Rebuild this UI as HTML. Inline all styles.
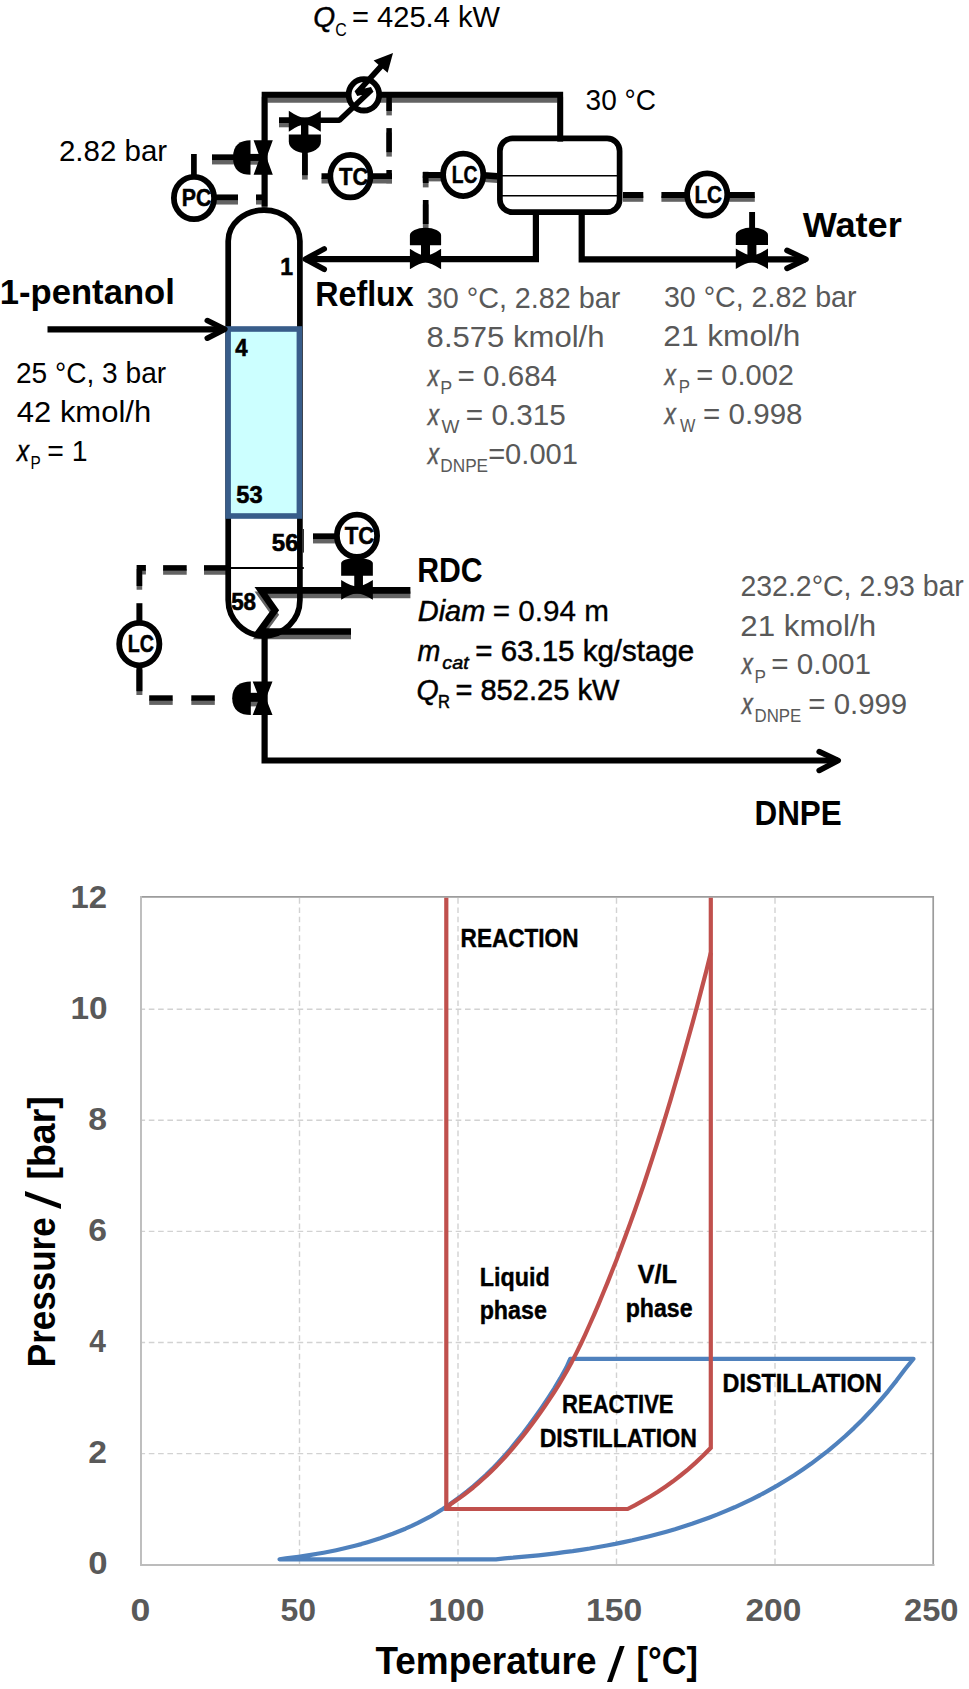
<!DOCTYPE html>
<html lang="en">
<head>
<meta charset="utf-8">
<title>Reactive distillation column for DNPE – flowsheet and operating window</title>
<style>
html,body{margin:0;padding:0;background:#fff;}
body{width:969px;height:1689px;overflow:hidden;}
svg{display:block;}
text{white-space:pre;}
</style>
</head>
<body>
<svg width="969" height="1689" viewBox="0 0 969 1689" font-family='"Liberation Sans", sans-serif'>
<rect width="969" height="1689" fill="#fff"/>
<g id="vessels">
<path d="M228.2,600.0 V241.1 A35.849999999999994,31.0 0 0 1 299.9,241.1 V600.0 A35.849999999999994,35.849999999999994 0 0 1 228.2,600.0 Z" fill="#fff"/>
<rect x="499.9" y="138.4" width="119.7" height="73.8" rx="12.5" ry="12.5" fill="#fff"/>
</g>
<g id="shadows">
<g transform="translate(0,5.0)"><path d="M264.6,206.5 L264.6,94.8 L560.2,94.8 L560.2,137.0" fill="none" stroke="#636363" stroke-width="5.9" stroke-linecap="butt" stroke-linejoin="miter"/></g>
<g transform="translate(0,4.4)"><path d="M212.0,157.2 L234.0,157.2" fill="none" stroke="#636363" stroke-width="5.7" stroke-linecap="butt" stroke-linejoin="miter"/></g>
<g transform="translate(0,3.8)"><path d="M245.0,157.4 L264.6,157.4" fill="none" stroke="#636363" stroke-width="7.0" stroke-linecap="butt" stroke-linejoin="miter"/></g>
<g transform="translate(0,4.4)"><path d="M214.0,197.3 L238.0,197.3" fill="none" stroke="#636363" stroke-width="5.7" stroke-linecap="butt" stroke-linejoin="miter"/></g>
<g transform="translate(0,4.4)"><path d="M256.0,197.3 L262.0,197.3" fill="none" stroke="#636363" stroke-width="5.7" stroke-linecap="butt" stroke-linejoin="miter"/></g>
<g transform="translate(0,4.4)"><path d="M279.0,120.2 L290.0,120.2" fill="none" stroke="#636363" stroke-width="5.4" stroke-linecap="butt" stroke-linejoin="miter"/></g>
<g transform="translate(0,4.4)"><path d="M304.9,150.0 L304.9,175.2" fill="none" stroke="#636363" stroke-width="5.7" stroke-linecap="butt" stroke-linejoin="miter"/></g>
<g transform="translate(0,4.4)"><path d="M321.5,176.2 L392.0,176.2" fill="none" stroke="#636363" stroke-width="5.7" stroke-linecap="butt" stroke-linejoin="miter"/></g>
<g transform="translate(0,4.4)"><path d="M389.1,97.0 L389.1,111.0" fill="none" stroke="#636363" stroke-width="5.5" stroke-linecap="butt" stroke-linejoin="miter"/></g>
<g transform="translate(0,4.4)"><path d="M389.1,128.1 L389.1,152.2" fill="none" stroke="#636363" stroke-width="5.5" stroke-linecap="butt" stroke-linejoin="miter"/></g>
<g transform="translate(0,4.4)"><path d="M389.1,170.0 L389.1,179.0" fill="none" stroke="#636363" stroke-width="5.5" stroke-linecap="butt" stroke-linejoin="miter"/></g>
<g transform="translate(0,3.4)"><path d="M422.8,175.0 L445.0,175.0" fill="none" stroke="#636363" stroke-width="6.0" stroke-linecap="butt" stroke-linejoin="miter"/></g>
<g transform="translate(0,3.6)"><path d="M480.0,175.0 L497.5,176.2" fill="none" stroke="#636363" stroke-width="6.4" stroke-linecap="butt" stroke-linejoin="miter"/></g>
<g transform="translate(0,4.4)"><path d="M425.7,171.8 L425.7,183.0" fill="none" stroke="#636363" stroke-width="5.7" stroke-linecap="butt" stroke-linejoin="miter"/></g>
<g transform="translate(0,4.4)"><path d="M425.7,200.0 L425.7,224.0" fill="none" stroke="#636363" stroke-width="5.7" stroke-linecap="butt" stroke-linejoin="miter"/></g>
<g transform="translate(0,3.8)"><path d="M623.0,195.0 L643.3,195.0" fill="none" stroke="#636363" stroke-width="6.0" stroke-linecap="butt" stroke-linejoin="miter"/></g>
<g transform="translate(0,3.8)"><path d="M661.4,195.0 L690.0,195.0" fill="none" stroke="#636363" stroke-width="6.0" stroke-linecap="butt" stroke-linejoin="miter"/></g>
<g transform="translate(0,3.8)"><path d="M725.0,195.0 L754.8,195.0" fill="none" stroke="#636363" stroke-width="6.0" stroke-linecap="butt" stroke-linejoin="miter"/></g>
<g transform="translate(0,4.4)"><path d="M313.0,536.2 L340.0,536.2" fill="none" stroke="#636363" stroke-width="5.7" stroke-linecap="butt" stroke-linejoin="miter"/></g>
<g transform="translate(0,4.4)"><path d="M410.4,590.4 L261.0,590.4 L275.0,610.2 L259.5,631.5 L351.0,631.5" fill="none" stroke="#636363" stroke-width="6.7" stroke-linecap="butt" stroke-linejoin="miter"/></g>
<g transform="translate(0,4.6)"><path d="M245.0,697.3 L264.6,697.3" fill="none" stroke="#636363" stroke-width="9.0" stroke-linecap="butt" stroke-linejoin="miter"/></g>
<g transform="translate(0,4.1)"><path d="M204.0,567.9 L226.0,567.9" fill="none" stroke="#636363" stroke-width="5.5" stroke-linecap="butt" stroke-linejoin="miter"/></g>
<g transform="translate(0,4.1)"><path d="M163.1,567.9 L186.7,567.9" fill="none" stroke="#636363" stroke-width="5.5" stroke-linecap="butt" stroke-linejoin="miter"/></g>
<g transform="translate(0,3.8)"><path d="M139.4,586.0 L139.4,567.9 L145.9,567.9" fill="none" stroke="#636363" stroke-width="5.6" stroke-linecap="butt" stroke-linejoin="miter"/></g>
<g transform="translate(0,3.8)"><path d="M139.4,666.0 L139.4,691.2" fill="none" stroke="#636363" stroke-width="6.0" stroke-linecap="butt" stroke-linejoin="miter"/></g>
<g transform="translate(0,4.2)"><path d="M149.2,698.0 L172.7,698.0" fill="none" stroke="#636363" stroke-width="5.4" stroke-linecap="butt" stroke-linejoin="miter"/></g>
<g transform="translate(0,4.2)"><path d="M191.3,698.0 L214.8,698.0" fill="none" stroke="#636363" stroke-width="5.4" stroke-linecap="butt" stroke-linejoin="miter"/></g>
</g>
<g id="process">
<path d="M228.2,600.0 V241.1 A35.849999999999994,31.0 0 0 1 299.9,241.1 V600.0 A35.849999999999994,35.849999999999994 0 0 1 228.2,600.0 Z" fill="none" stroke="#000" stroke-width="5.7"/>
<rect x="228.1" y="329.0" width="71.3" height="187.0" fill="#ccffff" stroke="#385d8a" stroke-width="5.6"/>
<path d="M231.0,568.0 L303.8,568.0" fill="none" stroke="#000" stroke-width="1.8" stroke-linecap="butt" stroke-linejoin="miter"/>
<path d="M303.4,529.0 L303.4,552.6" fill="none" stroke="#000" stroke-width="0.9" stroke-linecap="butt" stroke-linejoin="miter"/>
<path d="M264.6,206.5 L264.6,94.8 L560.2,94.8 L560.2,137.0" fill="none" stroke="#000" stroke-width="5.9" stroke-linecap="butt" stroke-linejoin="miter"/>
<path d="M253.60,140.20 H272.80 L266.50,157.50 L272.80,174.80 H253.60 L259.90,157.50 Z" fill="#000"/>
<path d="M212.0,157.2 L234.0,157.2" fill="none" stroke="#000" stroke-width="5.7" stroke-linecap="butt" stroke-linejoin="miter"/>
<path d="M245.0,157.4 L264.6,157.4" fill="none" stroke="#000" stroke-width="7.0" stroke-linecap="butt" stroke-linejoin="miter"/>
<path d="M250.5,140.2 V174.8 C240.5,174.8 233,170.5 233,157.5 C233,144.5 240.5,140.2 250.5,140.2 Z" fill="#000"/>
<path d="M193.9,154.0 L193.9,178.0" fill="none" stroke="#000" stroke-width="5.7" stroke-linecap="butt" stroke-linejoin="miter"/>
<path d="M214.0,197.3 L238.0,197.3" fill="none" stroke="#000" stroke-width="5.7" stroke-linecap="butt" stroke-linejoin="miter"/>
<path d="M256.0,197.3 L262.0,197.3" fill="none" stroke="#000" stroke-width="5.7" stroke-linecap="butt" stroke-linejoin="miter"/>
<ellipse cx="194.0" cy="198.0" rx="20.1" ry="21.2" fill="#fff" stroke="#000" stroke-width="5.8"/>
<ellipse cx="363.9" cy="94.8" rx="15.3" ry="15.7" fill="#fff" stroke="#000" stroke-width="5.8"/>
<path d="M279.0,120.2 L339.4,120.2 L371.6,89.8 L356.6,93.2 L384.5,62.5" fill="none" stroke="#000" stroke-width="5.6" stroke-linecap="butt" stroke-linejoin="bevel"/>
<path d="M279.0,120.2 L290.0,120.2" fill="none" stroke="#000" stroke-width="5.4" stroke-linecap="butt" stroke-linejoin="miter"/>
<path d="M393,53 L373.6,60.6 L387.6,72.8 Z" fill="#000"/>
<path d="M288.80,110.70 Q299.20,117.80 304.80,117.80 Q310.40,117.80 320.80,110.70 V131.70 Q310.40,124.60 304.80,124.60 Q299.20,124.60 288.80,131.70 Z" fill="#000"/>
<path d="M304.7,121.0 L304.7,136.0" fill="none" stroke="#000" stroke-width="7.4" stroke-linecap="butt" stroke-linejoin="miter"/>
<path d="M288.8,134.6 H320.9 V141.5 A16.05,11.4 0 0 1 288.8,141.5 Z" fill="#000"/>
<path d="M304.9,150.0 L304.9,175.2" fill="none" stroke="#000" stroke-width="5.7" stroke-linecap="butt" stroke-linejoin="miter"/>
<path d="M321.5,176.2 L392.0,176.2" fill="none" stroke="#000" stroke-width="5.7" stroke-linecap="butt" stroke-linejoin="miter"/>
<path d="M389.1,97.0 L389.1,111.0" fill="none" stroke="#000" stroke-width="5.5" stroke-linecap="butt" stroke-linejoin="miter"/>
<path d="M389.1,128.1 L389.1,152.2" fill="none" stroke="#000" stroke-width="5.5" stroke-linecap="butt" stroke-linejoin="miter"/>
<path d="M389.1,170.0 L389.1,179.0" fill="none" stroke="#000" stroke-width="5.5" stroke-linecap="butt" stroke-linejoin="miter"/>
<ellipse cx="350.4" cy="176.15" rx="20.1" ry="21.2" fill="#fff" stroke="#000" stroke-width="5.8"/>
<rect x="499.9" y="138.4" width="119.7" height="73.8" rx="12.5" ry="12.5" fill="none" stroke="#000" stroke-width="5.7"/>
<path d="M502.0,175.8 L617.5,175.8" fill="none" stroke="#000" stroke-width="1.5" stroke-linecap="butt" stroke-linejoin="miter"/>
<path d="M502.0,195.8 L617.5,195.8" fill="none" stroke="#000" stroke-width="1.5" stroke-linecap="butt" stroke-linejoin="miter"/>
<path d="M422.8,175.0 L445.0,175.0" fill="none" stroke="#000" stroke-width="6.0" stroke-linecap="butt" stroke-linejoin="miter"/>
<path d="M480.0,175.0 L497.5,176.2" fill="none" stroke="#000" stroke-width="6.4" stroke-linecap="butt" stroke-linejoin="miter"/>
<path d="M425.7,171.8 L425.7,183.0" fill="none" stroke="#000" stroke-width="5.7" stroke-linecap="butt" stroke-linejoin="miter"/>
<path d="M425.7,200.0 L425.7,224.0" fill="none" stroke="#000" stroke-width="5.7" stroke-linecap="butt" stroke-linejoin="miter"/>
<ellipse cx="463.2" cy="174.85" rx="20.1" ry="21.2" fill="#fff" stroke="#000" stroke-width="5.8"/>
<path d="M535.9,214.0 L535.9,259.1 L305.0,259.1" fill="none" stroke="#000" stroke-width="6.2" stroke-linecap="butt" stroke-linejoin="miter"/>
<path d="M324.2,248.9 L305.3,259.1 L324.2,269.3" fill="none" stroke="#000" stroke-width="5.6" stroke-linecap="round" stroke-linejoin="round"/>
<path d="M409.90,248.85 Q420.04,255.70 425.50,255.70 Q430.96,255.70 441.10,248.85 V269.35 Q430.96,262.50 425.50,262.50 Q420.04,262.50 409.90,269.35 Z" fill="#000"/>
<path d="M425.5,259.1 L425.5,244.2" fill="none" stroke="#000" stroke-width="9.0" stroke-linecap="butt" stroke-linejoin="miter"/>
<path d="M409.90,245.20 V235.30 A15.60,7.60 0 0 1 441.10,235.30 V245.20 Z" fill="#000"/>
<path d="M581.7,214.0 L581.7,259.3 L806.0,259.3" fill="none" stroke="#000" stroke-width="6.2" stroke-linecap="butt" stroke-linejoin="miter"/>
<path d="M787.0,250.4 L806.0,259.3 L787.0,268.4" fill="none" stroke="#000" stroke-width="5.6" stroke-linecap="round" stroke-linejoin="round"/>
<path d="M735.80,248.55 Q746.26,255.40 751.90,255.40 Q757.53,255.40 768.00,248.55 V269.05 Q757.53,262.20 751.90,262.20 Q746.26,262.20 735.80,269.05 Z" fill="#000"/>
<path d="M751.9,258.8 L751.9,243.9" fill="none" stroke="#000" stroke-width="9.0" stroke-linecap="butt" stroke-linejoin="miter"/>
<path d="M735.80,244.90 V235.00 A16.10,7.60 0 0 1 768.00,235.00 V244.90 Z" fill="#000"/>
<path d="M752.1,212.0 L752.1,230.0" fill="none" stroke="#000" stroke-width="5.9" stroke-linecap="butt" stroke-linejoin="miter"/>
<path d="M623.0,195.0 L643.3,195.0" fill="none" stroke="#000" stroke-width="6.0" stroke-linecap="butt" stroke-linejoin="miter"/>
<path d="M661.4,195.0 L690.0,195.0" fill="none" stroke="#000" stroke-width="6.0" stroke-linecap="butt" stroke-linejoin="miter"/>
<path d="M725.0,195.0 L754.8,195.0" fill="none" stroke="#000" stroke-width="6.0" stroke-linecap="butt" stroke-linejoin="miter"/>
<ellipse cx="707.2" cy="194.5" rx="20.1" ry="21.2" fill="#fff" stroke="#000" stroke-width="5.8"/>
<path d="M47.5,329.3 L224.0,329.3" fill="none" stroke="#000" stroke-width="6.2" stroke-linecap="butt" stroke-linejoin="miter"/>
<path d="M207.3,320.6 L224.8,329.3 L207.3,338.2" fill="none" stroke="#000" stroke-width="5.6" stroke-linecap="round" stroke-linejoin="round"/>
<path d="M313.0,536.2 L340.0,536.2" fill="none" stroke="#000" stroke-width="5.7" stroke-linecap="butt" stroke-linejoin="miter"/>
<ellipse cx="357.0" cy="535.8" rx="20.1" ry="21.2" fill="#fff" stroke="#000" stroke-width="5.8"/>
<path d="M410.4,590.4 L261.0,590.4 L275.0,610.2 L259.5,631.5 L351.0,631.5" fill="none" stroke="#000" stroke-width="6.7" stroke-linecap="butt" stroke-linejoin="miter"/>
<path d="M341.15,579.90 Q351.45,586.40 357.00,586.40 Q362.55,586.40 372.85,579.90 V599.70 Q362.55,593.20 357.00,593.20 Q351.45,593.20 341.15,599.70 Z" fill="#000"/>
<path d="M358.6,589.8 L358.6,574.8" fill="none" stroke="#000" stroke-width="8.7" stroke-linecap="butt" stroke-linejoin="miter"/>
<path d="M341.15,575.80 V563.30 A15.85,5.50 0 0 1 372.85,563.30 V575.80 Z" fill="#000"/>
<path d="M264.6,636.0 L264.6,760.5 L838.0,760.5" fill="none" stroke="#000" stroke-width="6.2" stroke-linecap="butt" stroke-linejoin="miter"/>
<path d="M819.2,751.6 L838.2,760.5 L819.2,770.4" fill="none" stroke="#000" stroke-width="5.6" stroke-linecap="round" stroke-linejoin="round"/>
<path d="M252.70,681.40 H272.50 L265.90,698.20 L272.50,715.00 H252.70 L259.30,698.20 Z" fill="#000"/>
<path d="M245.0,697.3 L264.6,697.3" fill="none" stroke="#000" stroke-width="9.0" stroke-linecap="butt" stroke-linejoin="miter"/>
<path d="M250.8,681.4 V715 C240.5,715 232.2,710.5 232.2,698.2 C232.2,685.9 240.5,681.4 250.8,681.4 Z" fill="#000"/>
<path d="M204.0,567.9 L226.0,567.9" fill="none" stroke="#000" stroke-width="5.5" stroke-linecap="butt" stroke-linejoin="miter"/>
<path d="M163.1,567.9 L186.7,567.9" fill="none" stroke="#000" stroke-width="5.5" stroke-linecap="butt" stroke-linejoin="miter"/>
<path d="M139.4,586.0 L139.4,567.9 L145.9,567.9" fill="none" stroke="#000" stroke-width="5.6" stroke-linecap="butt" stroke-linejoin="miter"/>
<path d="M139.4,603.2 L139.4,622.0" fill="none" stroke="#000" stroke-width="6.0" stroke-linecap="butt" stroke-linejoin="miter"/>
<path d="M139.4,666.0 L139.4,691.2" fill="none" stroke="#000" stroke-width="6.0" stroke-linecap="butt" stroke-linejoin="miter"/>
<path d="M149.2,698.0 L172.7,698.0" fill="none" stroke="#000" stroke-width="5.4" stroke-linecap="butt" stroke-linejoin="miter"/>
<path d="M191.3,698.0 L214.8,698.0" fill="none" stroke="#000" stroke-width="5.4" stroke-linecap="butt" stroke-linejoin="miter"/>
<ellipse cx="139.3" cy="644.1" rx="20.1" ry="21.2" fill="#fff" stroke="#000" stroke-width="5.8"/>
</g>
<g id="chart">
<line x1="299.5" y1="898.1" x2="299.5" y2="1564.7" stroke="#d2d2d2" stroke-width="1.4" stroke-dasharray="5.6 3.7"/>
<line x1="458.0" y1="898.1" x2="458.0" y2="1564.7" stroke="#d2d2d2" stroke-width="1.4" stroke-dasharray="5.6 3.7"/>
<line x1="616.5" y1="898.1" x2="616.5" y2="1564.7" stroke="#d2d2d2" stroke-width="1.4" stroke-dasharray="5.6 3.7"/>
<line x1="775.0" y1="898.1" x2="775.0" y2="1564.7" stroke="#d2d2d2" stroke-width="1.4" stroke-dasharray="5.6 3.7"/>
<line x1="142.0" y1="1453.6" x2="933.5" y2="1453.6" stroke="#d2d2d2" stroke-width="1.4" stroke-dasharray="5.6 3.7" stroke-dashoffset="2.5"/>
<line x1="142.0" y1="1342.5" x2="933.5" y2="1342.5" stroke="#d2d2d2" stroke-width="1.4" stroke-dasharray="5.6 3.7" stroke-dashoffset="2.5"/>
<line x1="142.0" y1="1231.4" x2="933.5" y2="1231.4" stroke="#d2d2d2" stroke-width="1.4" stroke-dasharray="5.6 3.7" stroke-dashoffset="2.5"/>
<line x1="142.0" y1="1120.3" x2="933.5" y2="1120.3" stroke="#d2d2d2" stroke-width="1.4" stroke-dasharray="5.6 3.7" stroke-dashoffset="2.5"/>
<line x1="142.0" y1="1009.2" x2="933.5" y2="1009.2" stroke="#d2d2d2" stroke-width="1.4" stroke-dasharray="5.6 3.7" stroke-dashoffset="2.5"/>
<path d="M141.0,896.9 H933.2 V1565" fill="none" stroke="#9c9c9c" stroke-width="1.7"/>
<path d="M141.0,896 V1565.0 H934.5" fill="none" stroke="#bcbcbc" stroke-width="1.9"/>
<path d="M279.5,1559.3 L285.8,1558.4 L292.1,1557.6 L298.4,1556.8 L304.7,1555.9 L311.0,1554.9 L317.3,1553.8 L323.6,1552.7 L329.9,1551.5 L336.2,1550.2 L342.5,1548.8 L348.7,1547.3 L355.0,1545.7 L361.3,1544.1 L367.6,1542.2 L373.9,1540.3 L380.2,1538.3 L386.5,1536.1 L392.8,1533.8 L399.1,1531.3 L405.4,1528.7 L411.7,1525.9 L418.0,1522.9 L424.3,1519.7 L430.6,1516.4 L436.8,1512.8 L442.8,1509.0 L448.8,1505.0 L454.7,1500.7 L460.9,1496.2 L467.1,1491.4 L473.3,1486.3 L479.5,1480.9 L485.7,1475.2 L492.0,1469.1 L498.2,1462.7 L504.4,1455.9 L510.6,1448.8 L516.8,1441.2 L523.1,1433.3 L529.3,1425.1 L535.5,1416.5 L541.7,1407.6 L547.9,1398.4 L554.2,1388.6 L560.4,1378.2 L566.6,1367.1 L570.2,1358.8 L913.5,1358.8 L905.0,1369.3 L896.5,1380.6 L888.0,1391.3 L879.4,1401.4 L870.9,1410.8 L862.4,1419.7 L853.9,1428.1 L845.4,1436.0 L836.8,1443.5 L828.3,1450.6 L819.8,1457.2 L811.3,1463.6 L802.8,1469.5 L794.2,1475.2 L785.7,1480.5 L777.2,1485.6 L768.7,1490.4 L760.2,1495.0 L751.6,1499.3 L743.1,1503.4 L734.6,1507.3 L726.1,1510.9 L717.6,1514.4 L709.0,1517.7 L700.5,1520.8 L692.0,1523.8 L683.5,1526.5 L675.0,1529.2 L666.4,1531.7 L657.9,1534.0 L649.4,1536.2 L640.9,1538.3 L632.4,1540.3 L623.8,1542.1 L615.3,1543.9 L606.8,1545.5 L598.3,1547.0 L589.8,1548.5 L581.2,1549.8 L572.7,1551.1 L564.2,1552.2 L555.7,1553.3 L547.2,1554.3 L538.6,1555.3 L530.1,1556.1 L521.6,1556.9 L513.1,1557.7 L504.6,1558.3 L496.0,1559.3 L279.5,1559.3 Z" fill="none" stroke="#4f81bd" stroke-width="4.2" stroke-linejoin="round" stroke-linecap="round"/>
<path d="M446.3,897.7 L446.3,1509.0 L627.6,1509.0 L635.2,1505.1 L642.7,1500.9 L650.3,1496.5 L657.9,1491.8 L665.4,1486.7 L673.0,1481.3 L680.5,1475.5 L688.1,1469.3 L695.7,1462.6 L703.2,1455.5 L710.8,1447.8 L710.8,897.7" fill="none" stroke="#c0504d" stroke-width="4.2" stroke-linejoin="miter"/>
<path d="M446.3,1509.0 L450.8,1504.1 L455.2,1501.1 L459.7,1497.9 L464.2,1494.6 L468.7,1491.1 L473.2,1487.5 L477.7,1483.7 L482.1,1479.8 L486.6,1475.7 L491.1,1471.4 L495.6,1467.0 L500.1,1462.4 L504.6,1457.6 L509.0,1452.6 L513.5,1447.4 L518.0,1442.0 L522.5,1436.5 L527.0,1430.7 L531.5,1424.8 L535.9,1418.7 L540.4,1412.5 L544.9,1406.1 L549.4,1399.4 L553.9,1392.6 L558.4,1385.5 L562.8,1378.0 L567.3,1370.1 L571.8,1361.9 L576.3,1353.1 L580.8,1344.0 L585.3,1334.4 L589.7,1324.5 L594.2,1314.3 L598.7,1303.8 L603.2,1293.0 L607.7,1282.1 L612.2,1270.8 L616.7,1259.4 L621.1,1247.7 L625.6,1235.7 L630.1,1223.5 L634.6,1211.0 L639.1,1198.1 L643.6,1185.0 L648.0,1171.6 L652.5,1157.9 L657.0,1143.9 L661.5,1129.6 L666.0,1115.0 L670.5,1100.2 L674.9,1085.0 L679.4,1069.6 L683.9,1053.9 L688.4,1037.8 L692.9,1021.6 L697.4,1005.0 L701.8,988.1 L706.3,971.0 L710.8,952.7" fill="none" stroke="#c0504d" stroke-width="4.2" stroke-linejoin="round"/>
</g>
<g id="labels">
<text><tspan x="313.18" y="27.00" font-size="29.9" font-style="italic" stroke="#000" stroke-width="0.45" textLength="21.90" lengthAdjust="spacingAndGlyphs">Q</tspan><tspan x="335.15" y="36.00" font-size="19.0" textLength="11.50" lengthAdjust="spacingAndGlyphs">C</tspan><tspan> </tspan><tspan x="351.94" y="27.00" font-size="29.9" textLength="147.99" lengthAdjust="spacingAndGlyphs">= 425.4 kW</tspan></text>
<text x="58.92" y="161.00" font-size="29.9" textLength="108.23" lengthAdjust="spacingAndGlyphs">2.82 bar</text>
<text x="585.62" y="109.50" font-size="29.9" textLength="70.35" lengthAdjust="spacingAndGlyphs">30 °C</text>
<text x="-0.26" y="304.40" font-size="35.0" font-weight="bold" textLength="175.11" lengthAdjust="spacingAndGlyphs">1-pentanol</text>
<text x="15.98" y="382.90" font-size="29.9" textLength="150.15" lengthAdjust="spacingAndGlyphs">25 °C, 3 bar</text>
<text x="16.82" y="421.60" font-size="29.9" textLength="134.32" lengthAdjust="spacingAndGlyphs">42 kmol/h</text>
<text><tspan x="17.03" y="461.00" font-size="29.9" font-style="italic" stroke="#000" stroke-width="0.45" textLength="12.02" lengthAdjust="spacingAndGlyphs">x</tspan><tspan x="30.40" y="469.30" font-size="19.0" textLength="10.24" lengthAdjust="spacingAndGlyphs">P</tspan><tspan> </tspan><tspan x="47.37" y="461.00" font-size="29.9" textLength="40.28" lengthAdjust="spacingAndGlyphs">= 1</tspan></text>
<text x="315.29" y="306.00" font-size="35.0" font-weight="bold" textLength="98.41" lengthAdjust="spacingAndGlyphs">Reflux</text>
<text x="426.70" y="308.00" font-size="29.9" fill="#595959" textLength="193.64" lengthAdjust="spacingAndGlyphs">30 °C, 2.82 bar</text>
<text x="426.63" y="346.70" font-size="29.9" fill="#595959" textLength="177.92" lengthAdjust="spacingAndGlyphs">8.575 kmol/h</text>
<text><tspan x="427.76" y="386.10" font-size="29.9" font-style="italic" fill="#595959" stroke="#595959" stroke-width="0.45" textLength="11.33" lengthAdjust="spacingAndGlyphs">x</tspan><tspan x="440.20" y="394.40" font-size="19.0" fill="#595959" textLength="11.95" lengthAdjust="spacingAndGlyphs">P</tspan><tspan> </tspan><tspan x="457.61" y="386.10" font-size="29.9" fill="#595959" textLength="99.42" lengthAdjust="spacingAndGlyphs">= 0.684</tspan></text>
<text><tspan x="427.76" y="425.10" font-size="29.9" font-style="italic" fill="#595959" stroke="#595959" stroke-width="0.45" textLength="11.33" lengthAdjust="spacingAndGlyphs">x</tspan><tspan x="441.40" y="433.40" font-size="19.0" fill="#595959" textLength="17.92" lengthAdjust="spacingAndGlyphs">W</tspan><tspan> </tspan><tspan x="465.81" y="425.10" font-size="29.9" fill="#595959" textLength="99.90" lengthAdjust="spacingAndGlyphs">= 0.315</tspan></text>
<text><tspan x="427.76" y="464.10" font-size="29.9" font-style="italic" fill="#595959" stroke="#595959" stroke-width="0.45" textLength="11.33" lengthAdjust="spacingAndGlyphs">x</tspan><tspan x="440.25" y="472.40" font-size="19.0" fill="#595959" textLength="47.87" lengthAdjust="spacingAndGlyphs">DNPE</tspan><tspan x="488.14" y="464.10" font-size="29.9" fill="#595959" textLength="89.84" lengthAdjust="spacingAndGlyphs">=0.001</tspan></text>
<text x="802.70" y="236.50" font-size="35.0" font-weight="bold" textLength="99.11" lengthAdjust="spacingAndGlyphs">Water</text>
<text x="663.91" y="306.60" font-size="29.9" fill="#595959" textLength="192.53" lengthAdjust="spacingAndGlyphs">30 °C, 2.82 bar</text>
<text x="663.32" y="345.70" font-size="29.9" fill="#595959" textLength="137.06" lengthAdjust="spacingAndGlyphs">21 kmol/h</text>
<text><tspan x="664.56" y="384.70" font-size="29.9" font-style="italic" fill="#595959" stroke="#595959" stroke-width="0.45" textLength="11.33" lengthAdjust="spacingAndGlyphs">x</tspan><tspan x="678.69" y="393.00" font-size="19.0" fill="#595959" textLength="11.22" lengthAdjust="spacingAndGlyphs">P</tspan><tspan> </tspan><tspan x="696.34" y="384.70" font-size="29.9" fill="#595959" textLength="97.64" lengthAdjust="spacingAndGlyphs">= 0.002</tspan></text>
<text><tspan x="664.56" y="423.80" font-size="29.9" font-style="italic" fill="#595959" stroke="#595959" stroke-width="0.45" textLength="11.33" lengthAdjust="spacingAndGlyphs">x</tspan><tspan x="680.00" y="432.10" font-size="19.0" fill="#595959" textLength="15.35" lengthAdjust="spacingAndGlyphs">W</tspan><tspan> </tspan><tspan x="703.12" y="423.80" font-size="29.9" fill="#595959" textLength="99.38" lengthAdjust="spacingAndGlyphs">= 0.998</tspan></text>
<text x="417.21" y="581.90" font-size="35.0" font-weight="bold" textLength="65.46" lengthAdjust="spacingAndGlyphs">RDC</text>
<text><tspan x="417.75" y="621.30" font-size="29.9" font-style="italic" stroke="#000" stroke-width="0.5" textLength="67.50" lengthAdjust="spacingAndGlyphs">Diam</tspan><tspan> </tspan><tspan x="492.71" y="621.30" font-size="29.9" stroke="#000" stroke-width="0.3" textLength="116.23" lengthAdjust="spacingAndGlyphs">= 0.94 m</tspan></text>
<text><tspan x="417.47" y="661.30" font-size="29.9" font-style="italic" stroke="#000" stroke-width="0.5" textLength="22.82" lengthAdjust="spacingAndGlyphs">m</tspan><tspan x="442.28" y="668.90" font-size="19.0" font-style="italic" stroke="#000" stroke-width="0.5" textLength="26.43" lengthAdjust="spacingAndGlyphs">cat</tspan><tspan> </tspan><tspan x="475.22" y="661.30" font-size="29.9" stroke="#000" stroke-width="0.5" textLength="218.98" lengthAdjust="spacingAndGlyphs">= 63.15 kg/stage</tspan></text>
<text><tspan x="416.57" y="699.90" font-size="29.9" font-style="italic" stroke="#000" stroke-width="0.5" textLength="22.13" lengthAdjust="spacingAndGlyphs">Q</tspan><tspan x="438.11" y="708.20" font-size="19.0" stroke="#000" stroke-width="0.5" textLength="11.97" lengthAdjust="spacingAndGlyphs">R</tspan><tspan> </tspan><tspan x="455.44" y="699.90" font-size="29.9" stroke="#000" stroke-width="0.5" textLength="163.89" lengthAdjust="spacingAndGlyphs">= 852.25 kW</tspan></text>
<text x="740.47" y="596.00" font-size="29.9" fill="#595959" textLength="223.37" lengthAdjust="spacingAndGlyphs">232.2°C, 2.93 bar</text>
<text x="740.33" y="636.00" font-size="29.9" fill="#595959" textLength="135.73" lengthAdjust="spacingAndGlyphs">21 kmol/h</text>
<text><tspan x="741.84" y="674.30" font-size="29.9" font-style="italic" fill="#595959" stroke="#595959" stroke-width="0.45" textLength="11.07" lengthAdjust="spacingAndGlyphs">x</tspan><tspan x="754.46" y="682.60" font-size="19.0" fill="#595959" textLength="11.46" lengthAdjust="spacingAndGlyphs">P</tspan><tspan> </tspan><tspan x="771.31" y="674.30" font-size="29.9" fill="#595959" textLength="99.79" lengthAdjust="spacingAndGlyphs">= 0.001</tspan></text>
<text><tspan x="741.84" y="714.00" font-size="29.9" font-style="italic" fill="#595959" stroke="#595959" stroke-width="0.45" textLength="11.07" lengthAdjust="spacingAndGlyphs">x</tspan><tspan x="754.49" y="722.30" font-size="19.0" fill="#595959" textLength="46.72" lengthAdjust="spacingAndGlyphs">DNPE</tspan><tspan> </tspan><tspan x="808.32" y="714.00" font-size="29.9" fill="#595959" textLength="98.87" lengthAdjust="spacingAndGlyphs">= 0.999</tspan></text>
<text x="754.44" y="824.70" font-size="35.0" font-weight="bold" textLength="87.29" lengthAdjust="spacingAndGlyphs">DNPE</text>
<text x="280.16" y="274.60" font-size="24.1" font-weight="bold" stroke="#000" stroke-width="0.6" textLength="12.81" lengthAdjust="spacingAndGlyphs">1</text>
<text x="235.30" y="355.60" font-size="24.1" font-weight="bold" stroke="#000" stroke-width="0.6" textLength="12.36" lengthAdjust="spacingAndGlyphs">4</text>
<text x="236.33" y="502.50" font-size="24.1" font-weight="bold" stroke="#000" stroke-width="0.6" textLength="26.26" lengthAdjust="spacingAndGlyphs">53</text>
<text x="271.82" y="550.60" font-size="24.1" font-weight="bold" stroke="#000" stroke-width="0.6" textLength="26.78" lengthAdjust="spacingAndGlyphs">56</text>
<text x="231.15" y="610.40" font-size="24.1" font-weight="bold" stroke="#000" stroke-width="0.6" textLength="24.91" lengthAdjust="spacingAndGlyphs">58</text>
<text x="181.66" y="206.10" font-size="24.1" font-weight="bold" stroke="#000" stroke-width="0.5" textLength="29.75" lengthAdjust="spacingAndGlyphs">PC</text>
<text x="339.00" y="184.80" font-size="24.1" font-weight="bold" stroke="#000" stroke-width="0.5" textLength="29.42" lengthAdjust="spacingAndGlyphs">TC</text>
<text x="451.75" y="183.20" font-size="24.1" font-weight="bold" stroke="#000" stroke-width="0.5" textLength="25.67" lengthAdjust="spacingAndGlyphs">LC</text>
<text x="694.40" y="202.70" font-size="24.1" font-weight="bold" stroke="#000" stroke-width="0.5" textLength="27.69" lengthAdjust="spacingAndGlyphs">LC</text>
<text x="344.80" y="544.00" font-size="24.1" font-weight="bold" stroke="#000" stroke-width="0.5" textLength="29.62" lengthAdjust="spacingAndGlyphs">TC</text>
<text x="127.77" y="652.10" font-size="24.1" font-weight="bold" stroke="#000" stroke-width="0.5" textLength="26.20" lengthAdjust="spacingAndGlyphs">LC</text>
<text x="88.26" y="1574.30" font-size="30.9" font-weight="bold" fill="#595959" textLength="19.35" lengthAdjust="spacingAndGlyphs">0</text>
<text x="88.30" y="1463.20" font-size="30.9" font-weight="bold" fill="#595959" textLength="18.74" lengthAdjust="spacingAndGlyphs">2</text>
<text x="89.35" y="1352.10" font-size="30.9" font-weight="bold" fill="#595959" textLength="16.66" lengthAdjust="spacingAndGlyphs">4</text>
<text x="88.30" y="1241.00" font-size="30.9" font-weight="bold" fill="#595959" textLength="18.74" lengthAdjust="spacingAndGlyphs">6</text>
<text x="88.30" y="1129.90" font-size="30.9" font-weight="bold" fill="#595959" textLength="18.74" lengthAdjust="spacingAndGlyphs">8</text>
<text x="70.41" y="1018.80" font-size="30.9" font-weight="bold" fill="#595959" textLength="37.14" lengthAdjust="spacingAndGlyphs">10</text>
<text x="70.44" y="907.70" font-size="30.9" font-weight="bold" fill="#595959" textLength="36.57" lengthAdjust="spacingAndGlyphs">12</text>
<text x="130.48" y="1620.80" font-size="30.9" font-weight="bold" fill="#595959" textLength="19.86" lengthAdjust="spacingAndGlyphs">0</text>
<text x="280.50" y="1620.80" font-size="30.9" font-weight="bold" fill="#595959" textLength="35.60" lengthAdjust="spacingAndGlyphs">50</text>
<text x="428.29" y="1620.80" font-size="30.9" font-weight="bold" fill="#595959" textLength="56.38" lengthAdjust="spacingAndGlyphs">100</text>
<text x="586.09" y="1620.80" font-size="30.9" font-weight="bold" fill="#595959" textLength="56.27" lengthAdjust="spacingAndGlyphs">150</text>
<text x="745.45" y="1620.80" font-size="30.9" font-weight="bold" fill="#595959" textLength="55.91" lengthAdjust="spacingAndGlyphs">200</text>
<text x="903.98" y="1620.80" font-size="30.9" font-weight="bold" fill="#595959" textLength="54.55" lengthAdjust="spacingAndGlyphs">250</text>
<text><tspan x="375.50" y="1674.20" font-size="38.0" font-weight="bold" textLength="220.92" lengthAdjust="spacingAndGlyphs">Temperature</tspan><tspan> </tspan><tspan x="606.90" y="1682.20" font-size="50" textLength="17.68" lengthAdjust="spacingAndGlyphs">/</tspan><tspan> </tspan><tspan x="636.59" y="1674.20" font-size="38.0" font-weight="bold" textLength="61.28" lengthAdjust="spacingAndGlyphs">[°C]</tspan></text>
<text transform="rotate(-90)"><tspan x="-1367.19" y="55.00" font-size="38.0" font-weight="bold" textLength="149.86" lengthAdjust="spacingAndGlyphs">Pressure</tspan><tspan> </tspan><tspan x="-1208.90" y="61.40" font-size="50" textLength="17.98" lengthAdjust="spacingAndGlyphs">/</tspan><tspan> </tspan><tspan x="-1179.56" y="55.00" font-size="38.0" font-weight="bold" textLength="83.40" lengthAdjust="spacingAndGlyphs">[bar]</tspan></text>
<text x="460.59" y="946.80" font-size="25.3" font-weight="bold" stroke="#000" stroke-width="0.4" textLength="117.90" lengthAdjust="spacingAndGlyphs">REACTION</text>
<text x="479.64" y="1285.80" font-size="25.3" font-weight="bold" stroke="#000" stroke-width="0.4" textLength="70.05" lengthAdjust="spacingAndGlyphs">Liquid</text>
<text x="479.65" y="1318.60" font-size="25.3" font-weight="bold" stroke="#000" stroke-width="0.4" textLength="67.23" lengthAdjust="spacingAndGlyphs">phase</text>
<text x="637.80" y="1283.40" font-size="25.3" font-weight="bold" stroke="#000" stroke-width="0.4" textLength="39.23" lengthAdjust="spacingAndGlyphs">V/L</text>
<text x="625.75" y="1317.30" font-size="25.3" font-weight="bold" stroke="#000" stroke-width="0.4" textLength="66.82" lengthAdjust="spacingAndGlyphs">phase</text>
<text x="562.02" y="1412.80" font-size="25.3" font-weight="bold" stroke="#000" stroke-width="0.4" textLength="111.56" lengthAdjust="spacingAndGlyphs">REACTIVE</text>
<text x="539.66" y="1446.50" font-size="25.3" font-weight="bold" stroke="#000" stroke-width="0.4" textLength="157.16" lengthAdjust="spacingAndGlyphs">DISTILLATION</text>
<text x="722.54" y="1392.40" font-size="25.3" font-weight="bold" stroke="#000" stroke-width="0.4" textLength="159.40" lengthAdjust="spacingAndGlyphs">DISTILLATION</text>
</g>
</svg>
</body>
</html>
